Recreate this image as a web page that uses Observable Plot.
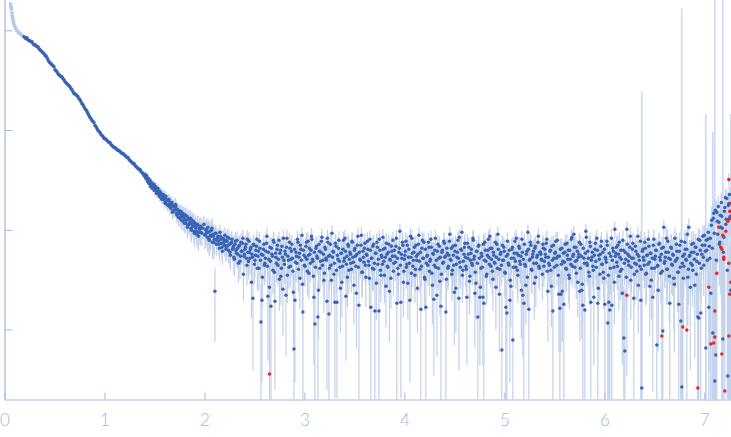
<!DOCTYPE html>
<html><head><meta charset="utf-8">
<script src="https://cdn.jsdelivr.net/npm/d3@7"></script>
<script src="https://cdn.jsdelivr.net/npm/@observablehq/plot@0.6"></script>
<style>
body{margin:0;background:#fff}
#chart svg{display:block}
#chart svg text{font-weight:300}
</style>
</head><body><div id="chart"></div>
<script>
// Each pair: [q × 100, log10(I) × 100]
const lowQ = [[5.5,227],[5.8,225],[6.2,223],[6.5,222],[6.9,218],[7.2,215],[7.6,213],[8,211],[8.4,209],[8.8,207],[9.5,205],[10.5,203],[11.3,201],[12.2,200],[13.5,198],[14.5,198],[15.5,197],[16.5,196],[17.5,195]];

const curve = [[19,194],[21,192],[23,191],[25,190],[27,189],[29,186],[31,185],[33,184],[35,181],[37,179],[39,177],[41,175],[43,171],[45,168],[47,166],[49,164],[51,160],[53,157],[55,155],[57,154],[59,151],[61,148],[63,146],[65,144],[67,141],[69,137],[71,136],[73,134],[75,131],[77,127],[79,124],[81,121],[83,117],[85,113],[87,110],[89,108],[91,104],[93,100],[95,98],[97,95],[99,92],[101,91],[103,89],[105,88],[107,85],[109,83],[111,82],[113,80],[115,79],[117,77],[119,76],[121,74],[123,73],[125,70],[127,68],[129,67],[131,64],[133,62],[135,61],[137,58],[139,55],
[140,56],[141,52],[142,53],[143,51],[144,47],[145,50],[146,45],[147,47],[148,43],[149,46],[150,41],[151,43],[152,38],[153,42],[154,36],[155,39],[156,37],[157,31],[158,36],[159,33],[160,28],[161,34],[162,30],[163,25],[164,31],[165,27],[166,22],[167,28],[168,19],[169,25],[170,21],[171,24],[172,15],[173,20],[174,17],[175,12],[176,19],[177,14],[178,9],[179,16],[180,11],[181,7],[182,14],[183,5],[184,12],[185,8],[186,2],[187,10],[188,4],[189,-1],[190,7],[191,2],[192,-4],[193,5],[194,-2],[195,1]];

const curveMid = [[20,193],[22,193],[24,190],[26,189],[28,187],[30,186],[32,184],[34,182],[36,180],[38,178],[40,175],[42,173],[44,169],[46,167],[48,165],[50,161],[52,159],[54,156],[56,154],[58,152],[60,149],[62,147],[64,145],[66,142],[68,139],[70,137],[72,135],[74,132],[76,129],[78,126],[80,122],[82,119],[84,115],[86,112],[88,109],[90,105],[92,102],[94,99],[96,96],[98,94],[100,92],[102,90],[104,88],[106,86],[108,84],[110,83],[112,81],[114,80],[116,78],[118,77],[120,75],[122,73],[124,71],[126,69],[128,67],[130,65],[132,63],[134,61],[136,59],[138,57],
[140.5,53],[141.5,55],[142.5,49],[143.5,52],[144.5,48],[145.5,44],[146.5,48],[147.5,42],[148.5,45],[149.5,40],[150.5,44],[151.5,37],[152.5,41],[153.5,39],[154.5,34],[155.5,38],[156.5,32],[157.5,35],[158.5,31],[159.5,35],[160.5,27],[161.5,31],[162.5,26],[163.5,30],[164.5,24],[165.5,28],[166.5,25],[167.5,18],[168.5,24],[169.5,20],[170.5,26],[171.5,17],[172.5,21],[173.5,13],[174.5,19],[175.5,16],[176.5,10],[177.5,17],[178.5,13],[179.5,7],[180.5,15],[181.5,10],[182.5,3],[183.5,11],[184.5,6],[185.5,12],[186.5,0],[187.5,6],[188.5,9],[189.5,-3],[190.5,4],[191.5,-1],[192.5,6],[193.5,-6],[194.5,2],[195.5,-2]];

const plateau = [[196,4],[197,-3],[198,2],[199,6],[200,-5],[201,0],[202,-2],[203,3],[204,-9],[205,-1],
[206,-6],[207,2],[208,-4],[209,-12],[210,-61],[211,-3],[212,-10],[213,-6],[214,-14],[215,-2],
[216,-9],[217,-17],[218,-8],[219,-12],[220,-5],[221,-19],[222,-11],[223,-15],[224,-8],[225,-22],
[226,-13],[227,-9],[228,-18],[229,-27],[230,-14],[231,-20],[232,-10],[233,-24],[234,-16],[235,-31],
[236,-12],[237,-21],[238,-8],[239,-26],[240,-19],[241,-14],[242,-35],[243,-22],[244,-11],[245,-28],
[246,-17],[247,-24],[248,-68],[249,-15],[250,-30],[251,-20],[252,-9],[253,-26],[254,-38],[255,-18],
[256,-92],[257,-70],[258,-25],[259,-14],[260,-33],[261,-21],[262,-6],[263,-66],[264,-29],[265,-17],
[266,-76],[267,-24],[268,-40],[269,-12],[270,-71],[271,-27],[272,-19],[273,-35],[274,-10],[275,-23],
[276,-46],[277,-16],[278,-59],[279,-30],[280,-21],[281,-65],[282,-8],[283,-26],[284,-37],[285,-18],
[286,-29],[287,-14],[288,-41],[289,-119],[290,-70],[291,-22],[292,-33],[293,-12],[294,-27],[295,-48],
[296,-19],[297,-5],[298,-82],[299,-25],[300,-36],[301,-16],[302,-29],[303,-11],[304,-43],[305,-24],
[306,-20],[307,-9],[308,-31],[309,-67],[310,-94],[311,-18],[312,-26],[313,-87],[314,-14],[315,-38],
[316,-22],[317,-7],[318,-30],[319,-50],[320,-17],[321,-28],[322,-71],[323,-12],[324,-84],[325,-25],
[326,-35],[327,-3],[328,-21],[329,-44],[330,-72],[331,-16],[332,-72],[333,-29],[334,-10],[335,-37],
[336,-23],[337,-52],[338,-19],[339,-31],[340,-8],[341,-66],[342,-26],[343,-14],[344,-40],[345,-22],
[346,-33],[347,-11],[348,-27],[349,-55],[350,-18],[351,-36],[352,-24],[353,-6],[354,-75],[355,-29],
[356,-15],[357,-42],[358,-21],[359,-32],[360,-13],[361,-47],[362,-25],[363,-19],[364,-35],[365,-9],
[366,-77],[367,-28],[368,-16],[369,-39],[370,-81],[371,-23],[372,-12],[373,-34],[374,-81],[375,-20],
[376,-45],[377,-27],[378,-7],[379,-31],[380,-18],[381,-56],[382,-24],[383,-37],[384,-14],[385,-29],
[386,-48],[387,-21],[388,-10],[389,-33],[390,-26],[391,-16],[392,-73],[393,-38],[394,-22],[395,-1],
[396,-72],[397,-28],[398,-15],[399,-41],[400,-25],[401,-11],[402,-34],[403,-53],[404,-19],[405,-70],
[406,-27],[407,-8],[408,-36],[409,-22],[410,-45],[411,-15],[412,-30],[413,-24],[414,-5],[415,-39],
[416,-79],[417,-18],[418,-28],[419,-12],[420,-49],[421,-77],[422,-26],[423,-35],[424,-17],[425,-31],
[426,-9],[427,-43],[428,-23],[429,-69],[430,-20],[431,-37],[432,-65],[433,-14],[434,-28],[435,-51],
[436,-76],[437,-22],[438,-33],[439,-11],[440,-27],[441,-82],[442,-18],[443,-38],[444,-25],[445,-4],
[446,-30],[447,-44],[448,-16],[449,-35],[450,-21],[451,-58],[452,-27],[453,-10],[454,-68],[455,-32],
[456,-19],[457,-2],[458,-40],[459,-24],[460,-13],[461,-36],[462,-67],[463,-28],[464,-17],[465,-46],
[466,-23],[467,-33],[468,-8],[469,-29],[470,-63],[471,-53],[472,-21],[473,-87],[474,-15],[475,-67],
[476,-38],[477,-26],[478,-67],[479,-73],[480,-12],[481,-31],[482,-44],[483,-20],[484,-27],[485,-6],
[486,-36],[487,-18],[488,-49],[489,-25],[490,-33],[491,-57],[492,-14],[493,-4],[494,-29],[495,-39],
[496,-22],[497,-120],[498,-30],[499,-17],[500,-42],[501,-77],[502,-83],[503,-24],[504,-35],[505,-70],
[506,-56],[507,-19],[508,-110],[509,-28],[510,-11],[511,-37],[512,-23],[513,-45],[514,-16],[515,-31],
[516,-26],[517,-9],[518,-65],[519,-73],[520,-34],[521,-55],[522,-21],[523,-2],[524,-79],[525,-29],
[526,-15],[527,-40],[528,-24],[529,-33],[530,-18],[531,-47],[532,-27],[533,-12],[534,-36],[535,-22]];

const plateauMid = [[200.5,-4],[201.5,1],[202.5,-7],[203.5,-2],[204.5,-10],[205.5,-5],[206.5,0],[207.5,-12],[208.5,-6],[209.5,-9],
[210.5,-3],[211.5,-14],[212.5,-8],[213.5,-11],[214.5,-18],[215.5,-6],[216.5,-13],[217.5,-21],[218.5,-9],[219.5,-15],
[220.5,-10],[221.5,-17],[222.5,-7],[223.5,-20],[224.5,-14],[225.5,-25],[226.5,-12],[227.5,-19],[228.5,-16],[229.5,-29],
[230.5,-11],[231.5,-23],[232.5,-18],[233.5,-33],[234.5,-15],[235.5,-26],[236.5,-21],[237.5,-13],[238.5,-44],[239.5,-24],
[240.5,-17],[241.5,-28],[242.5,-9],[243.5,-31],[244.5,-22],[245.5,-19],[246.5,-52],[247.5,-27],[248.5,-14],[249.5,-34],
[250.5,-25],[251.5,-16],[252.5,-38],[253.5,-21],[254.5,-11],[255.5,-30],[256.5,-24],[257.5,-47],[258.5,-19],[259.5,-35],
[260.5,-28],[261.5,-13],[262.5,-36],[263.5,-22],[264.5,-57],[265.5,-31],[266.5,-18],[267.5,-26],[268.5,-10],[269.5,-42],
[270.5,-23],[271.5,-33],[272.5,-15],[273.5,-29],[274.5,-49],[275.5,-20],[276.5,-38],[277.5,-27],[278.5,-8],[279.5,-34],
[280.5,-24],[281.5,-17],[282.5,-45],[283.5,-30],[284.5,-12],[285.5,-36],[286.5,-21],[287.5,-28],[288.5,-62],[289.5,-19],
[290.5,-32],[291.5,-26],[292.5,-9],[293.5,-39],[294.5,-23],[295.5,-15],[296.5,-30],[297.5,-54],[298.5,-20],[299.5,-35],
[300.5,-27],[301.5,-12],[302.5,-41],[303.5,-25],[304.5,-18],[305.5,-33],[306.5,-6],[307.5,-29],[308.5,-46],[309.5,-22],
[310.5,-37],[311.5,-16],[312.5,-28],[313.5,-60],[314.5,-21],[315.5,-31],[316.5,-11],[317.5,-35],[318.5,-24],[319.5,-43],
[320.5,-19],[321.5,-30],[322.5,-8],[323.5,-26],[324.5,-38],[325.5,-14],[326.5,-50],[327.5,-27],[328.5,-22],[329.5,-33],
[330.5,-13],[331.5,-40],[332.5,-25],[333.5,-18],[334.5,-31],[335.5,-58],[336.5,-23],[337.5,-36],[338.5,-10],[339.5,-28],
[340.5,-21],[341.5,-34],[342.5,-47],[343.5,-16],[344.5,-29],[345.5,-24],[346.5,-39],[347.5,-12],[348.5,-32],[349.5,-20],
[350.5,-26],[351.5,-63],[352.5,-15],[353.5,-37],[354.5,-22],[355.5,-30],[356.5,-5],[357.5,-42],[358.5,-27],[359.5,-18],
[360.5,-35],[361.5,-24],[362.5,-11],[363.5,-31],[364.5,-48],[365.5,-20],[366.5,-28],[367.5,-38],[368.5,-14],[369.5,-33],
[370.5,-23],[371.5,-53],[372.5,-17],[373.5,-29],[374.5,-9],[375.5,-40],[376.5,-25],[377.5,-34],[378.5,-19],[379.5,-45],
[380.5,-27],[381.5,-13],[382.5,-36],[383.5,-22],[384.5,-61],[385.5,-30],[386.5,-16],[387.5,-26],[388.5,-41],[389.5,-20],
[390.5,-32],[391.5,-8],[392.5,-28],[393.5,-44],[394.5,-18],[395.5,-35],[396.5,-24],[397.5,-12],[398.5,-52],[399.5,-29],
[400.5,-21],[401.5,-37],[402.5,-15],[403.5,-27],[404.5,-33],[405.5,-6],[406.5,-43],[407.5,-23],[408.5,-30],[409.5,-17],
[410.5,-39],[411.5,-26],[412.5,-58],[413.5,-14],[414.5,-31],[415.5,-22],[416.5,-36],[417.5,-10],[418.5,-28],[419.5,-47],
[420.5,-19],[421.5,-33],[422.5,-25],[423.5,-12],[424.5,-41],[425.5,-29],[426.5,-17],[427.5,-55],[428.5,-24],[429.5,-35],
[430.5,-8],[431.5,-30],[432.5,-21],[433.5,-38],[434.5,-16],[435.5,-27],[436.5,-44],[437.5,-20],[438.5,-32],[439.5,-13],
[440.5,-26],[441.5,-49],[442.5,-23],[443.5,-36],[444.5,-11],[445.5,-29],[446.5,-18],[447.5,-40],[448.5,-25],[449.5,-62],
[450.5,-15],[451.5,-34],[452.5,-22],[453.5,-28],[454.5,-7],[455.5,-37],[456.5,-20],[457.5,-45],[458.5,-31],[459.5,-17],
[460.5,-27],[461.5,-39],[462.5,-13],[463.5,-24],[464.5,-51],[465.5,-30],[466.5,-19],[467.5,-35],[468.5,-10],[469.5,-26],
[470.5,-42],[471.5,-21],[472.5,-33],[473.5,-16],[474.5,-28],[475.5,-57],[476.5,-23],[477.5,-37],[478.5,-14],[479.5,-30],
[480.5,-20],[481.5,-46],[482.5,-25],[483.5,-9],[484.5,-34],[485.5,-18],[486.5,-29],[487.5,-41],[488.5,-22],[489.5,-32],
[490.5,-12],[491.5,-27],[492.5,-38],[493.5,-19],[494.5,-64],[495.5,-24],[496.5,-35],[497.5,-15],[498.5,-30],[499.5,-21],
[500.5,-43],[501.5,-26],[502.5,-11],[503.5,-33],[504.5,-20],[505.5,-50],[506.5,-28],[507.5,-17],[508.5,-37],[509.5,-23],
[510.5,-31],[511.5,-8],[512.5,-40],[513.5,-25],[514.5,-18],[515.5,-34],[516.5,-60],[517.5,-22],[518.5,-29],[519.5,-14],
[520.5,-36],[521.5,-24],[522.5,-47],[523.5,-19],[524.5,-30],[525.5,-12],[526.5,-39],[527.5,-27],[528.5,-21],[529.5,-53],
[530.5,-16],[531.5,-33],[532.5,-25],[533.5,-6],[534.5,-38],[535.5,-22],[536.5,-29],[537.5,-44],[538.5,-18],[539.5,-31],
[540.5,-24],[541.5,-13],[542.5,-41],[543.5,-27],[544.5,-35],[545.5,-20],[546.5,-56],[547.5,-30],[548.5,-15],[549.5,-37],
[550.5,-22],[551.5,-28],[552.5,-10],[553.5,-45],[554.5,-26],[555.5,-19],[556.5,-34],[557.5,-61],[558.5,-23],[559.5,-32],
[560.5,-14],[561.5,-39],[562.5,-25],[563.5,-20],[564.5,-48],[565.5,-29],[566.5,-9],[567.5,-36],[568.5,-24],[569.5,-17],
[570.5,-31],[571.5,-43],[572.5,-21],[573.5,-27],[574.5,-12],[575.5,-38],[576.5,-26],[577.5,-54],[578.5,-18],[579.5,-33],
[580.5,-23],[581.5,-7],[582.5,-35],[583.5,-28],[584.5,-46],[585.5,-16],[586.5,-30],[587.5,-22],[588.5,-40],[589.5,-25],
[590.5,-13],[591.5,-37],[592.5,-20],[593.5,-58],[594.5,-29],[595.5,-24],[596.5,-11],[597.5,-34],[598.5,-42],[599.5,-19],
[600.5,-27],[601.5,-32],[602.5,-15],[603.5,-45],[604.5,-23],[605.5,-38],[606.5,-8],[607.5,-30],[608.5,-21],[609.5,-52],
[610.5,-26],[611.5,-17],[612.5,-36],[613.5,-24],[614.5,-12],[615.5,-41],[616.5,-29],[617.5,-63],[618.5,-20],[619.5,-33],
[620.5,-22],[621.5,-47],[622.5,-14],[623.5,-31],[624.5,-26],[625.5,-6],[626.5,-37],[627.5,-19],[628.5,-28],[629.5,-44],
[630.5,-16],[631.5,-34],[632.5,-24],[633.5,-55],[634.5,-30],[635.5,-11],[636.5,-39],[637.5,-21],[638.5,-27],[639.5,-35],
[640.5,-18],[641.5,-43],[642.5,-25],[643.5,-9],[644.5,-32],[645.5,-23],[646.5,-50],[647.5,-28],[648.5,-15],[649.5,-38],
[650.5,-26],[651.5,-20],[652.5,-36],[653.5,-60],[654.5,-13],[655.5,-30],[656.5,-24],[657.5,-41],[658.5,-17],[659.5,-33],
[660.5,-27],[661.5,-8],[662.5,-39],[663.5,-22],[664.5,-46],[665.5,-29],[666.5,-18],[667.5,-35],[668.5,-25],[669.5,-54],
[670.5,-31],[671.5,-14],[672.5,-28],[673.5,-42],[674.5,-21],[675.5,-37],[676.5,-11],[677.5,-33],[678.5,-48],[679.5,-24],
[680.5,-19],[681.5,-30],[682.5,-4],[683.5,-39],[684.5,-26],[685.5,-57],[686.5,-22],[687.5,-35],[688.5,-13],[689.5,-29],
[690.5,-17],[691.5,-44],[692.5,-24],[693.5,-9],[694.5,-33],[695.5,-20],[696.5,-38],[697.5,-15],[698.5,-27],[699.5,-5],
[700.5,-21],[701.5,-10],[702.5,-30],[703.5,-2],[704.5,-16],[705.5,-8],[706.5,5],[707.5,-18],[708.5,12],[709.5,-3],
[710.5,20],[711.5,-30],[712.5,9],[713.5,24],[714.5,-14],[715.5,15],[716.5,28],[717.5,2],[718.5,-22],[719.5,19],
[720.5,33],[721.5,11],[722.5,-40],[723.5,25],[724.5,36],[725.5,14]];

const tail = [[536,-24],[537,-30],[538,-14],[539,-36],[540,-19],[541,-27],[542,-9],[543,-61],[544,-33],[545,-21],
[546,-40],[547,-16],[548,-81],[549,-28],[550,-23],[551,-11],[552,-35],[553,-26],[554,-64],[555,-78],
[556,-64],[557,-18],[558,-31],[559,-74],[560,-22],[561,-38],[562,-13],[563,-29],[564,-45],[565,-20],
[566,-34],[567,-7],[568,-26],[569,-4],[570,-37],[571,-17],[572,-30],[573,-52],[574,-24],[575,-61],
[576,-14],[577,-60],[578,-75],[579,-28],[580,-80],[581,-1],[582,-33],[583,-21],[584,-42],[585,-12],
[586,-72],[587,-27],[588,-36],[589,-67],[590,-19],[591,-31],[592,-8],[593,-73],[594,-25],[595,-44],
[596,-16],[597,-34],[598,-22],[599,-48],[600,-74],[601,-29],[602,-11],[603,-93],[604,-72],[605,-80],
[606,-26],[607,-75],[608,-18],[609,-37],[610,1],[611,-23],[612,-32],[613,-15],[614,-46],[615,-27],
[616,-20],[617,-39],[618,-10],[619,-108],[620,-121],[621,-29],[622,1],[623,-24],[624,-35],[625,-17],
[626,-50],[627,-28],[628,-13],[629,-68],[630,-33],[631,-21],[632,-41],[633,-6],[634,-26],[635,-36],
[636,-70],[637,-158],[638,-19],[639,-30],[640,-12],[641,-44],[642,-25],[643,-34],[644,-16],[645,-56],
[646,-23],[647,-38],[648,-67],[649,-9],[650,-29],[651,-20],[652,-115],[653,-35],[654,-14],[655,-27],
[656,-43],[657,-18],[658,-101],[659,3],[660,-31],[661,-22],[662,-39],[663,-11],[664,-28],[665,-73],
[666,-17],[667,-34],[668,-24],[669,-48],[670,-8],[671,-30],[672,-21],[673,-42],[674,-74],[675,-15],
[676,-91],[677,-157],[678,-26],[679,-36],[680,-12],[681,-29],[682,-19],[683,-47],[684,3],[685,-25],
[686,-33],[687,-14],[688,-40],[689,-22],[690,-55],[691,-17],[692,-31],[693,-87],[694,-88],[695,-10],
[696,-83],[697,-24],[698,-6],[699,-35],[700,-15],[701,-118],[702,-20],[703,-9],[704,-77],[705,-28],
[706,-63],[707,10],[708,-103],[709,17],[710,-151],[711,-125],[712,18],[713,-4],[714,8],[715,-12],
[716,3],[717,14],[718,-109],[719,-7],[720,23],[721,6],[722,32],[723,-146],[724,27],[725,12],[726,-60]];

const outliers = [[264.6,-144],[622,-65],[657,-106],[678,-97],[682,-100],[693,-158],[704,-57],[706,-114],[709,-113],[710,-107],[710,-81],[712,-43],[714,3],[716,-17],[717,-19],[717,-124],[718,-5],[719,-27],[719,-29],[720,-161],[721,-1],[723,9],[724,11],[724,-106],[724,51],[724,-33],[725,-64],[725,19],[726,-52],[726,27]];

// points whose error bar runs far above the chart: [q × 100, top of bar log10 × 100]
const spikeTops = [[637,139],[677,222],[701,116],[708,98],[710,260],[718,260],[726,116]];

// absolute intensity uncertainty, by q range
const sigmaStartQ = [0, 1.0, 1.4, 1.7, 2.1, 6.0, 6.6, 7.05];
const sigmaValue  = [0.3, 0.2, 0.25, 0.25, 0.17, 0.19, 0.23, 0.45];

const xTicks = [0, 1, 2, 3, 4, 5, 6, 7];
const yTicks = [0.1, 1, 10, 100];

const yMin = 10 ** -1.701, yMax = 10 ** 2.304;
const toRow = ([q, v]) => ({q: q / 100, I: 10 ** (v / 100)});
const withErr = d => {
  const s = sigmaValue[d3.bisectRight(sigmaStartQ, d.q) - 1];
  return {...d, lo: d.I - s > yMin ? d.I - s : yMin, hi: d.I + s};
};
const pale = lowQ.map(toRow);
const main = [...curve, ...curveMid, ...plateau, ...plateauMid, ...tail].map(toRow).map(withErr);
const red = outliers.map(toRow).map(withErr);
const spikes = spikeTops.map(([q, t]) => ({q: q / 100, lo: yMin, hi: 10 ** (t / 100)}));

const axisColor = "#a3b7e2";
const W = 731, H = 437, mL = 4.5, mB = 37.5;

const chart = Plot.plot({
  width: W, height: H,
  marginLeft: mL, marginRight: 0, marginTop: 0, marginBottom: mB,
  style: {fontFamily: "Lato, 'Open Sans', sans-serif", fontSize: "17px", background: "#fff"},
  x: {domain: [0, 7.267], label: null},
  y: {type: "log", domain: [yMin, yMax], axis: null, label: null},
  marks: [
    Plot.ruleX(main, {x: "q", y1: "lo", y2: "hi", stroke: "#c3d1ea", strokeWidth: 1.2, clip: true}),
    Plot.ruleX(red, {x: "q", y1: "lo", y2: "hi", stroke: "#c3d1ea", strokeWidth: 1.2, clip: true}),
    Plot.ruleX(spikes, {x: "q", y1: "lo", y2: "hi", stroke: "#c2d1ec", strokeWidth: 1.3, clip: true}),
    Plot.dot(pale, {x: "q", y: "I", r: 1.9, fill: "#b7c8e9", stroke: null}),
    Plot.dot(main, {x: "q", y: "I", r: 1.75, fill: "#3863b4", stroke: null, clip: true}),
    Plot.dot(red, {x: "q", y: "I", r: 1.75, fill: "#e8232b", stroke: null, clip: true}),
    Plot.ruleX([0], {stroke: axisColor, strokeWidth: 1.2}),
    Plot.ruleY([yMin], {stroke: axisColor, strokeWidth: 1.2}),
    Plot.tickX(xTicks, {x: d => d, stroke: axisColor, insetTop: H - mB - 7}),
    Plot.tickY(yTicks, {y: d => d, stroke: axisColor, insetRight: W - mL - 8}),
    Plot.axisX(xTicks, {tickSize: 0, tickPadding: 14, color: axisColor, fontSize: 17, label: null, tickFormat: d => String(d)})
  ]
});
document.getElementById("chart").appendChild(chart);
</script>
</body></html>
